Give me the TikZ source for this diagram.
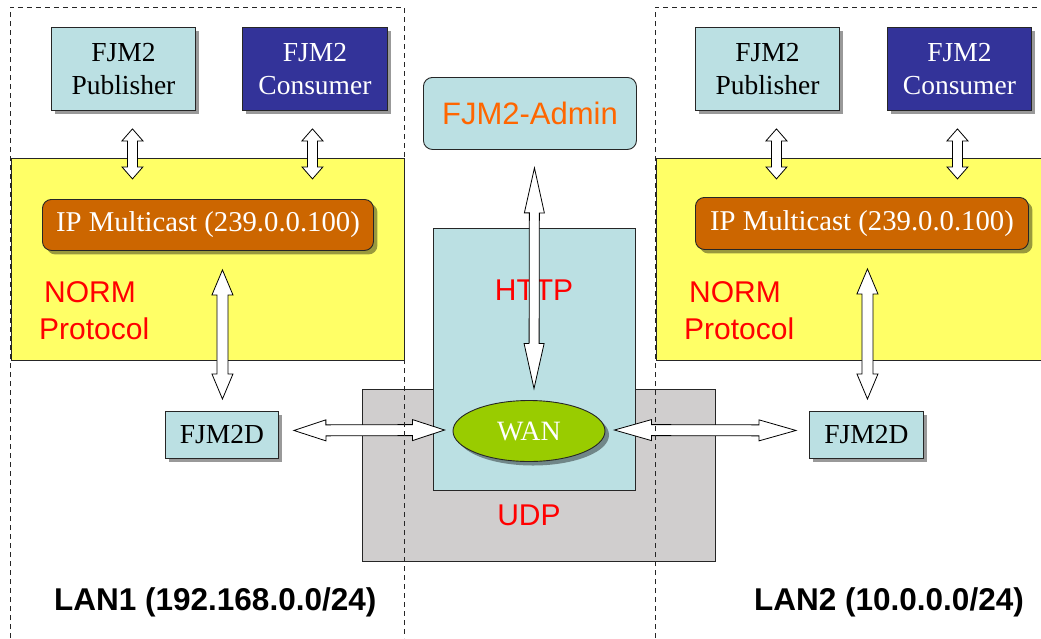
\documentclass[tikz,border=0pt]{standalone}
\usepackage{fontspec}
\setmainfont{Liberation Serif}
\setsansfont{Liberation Sans}
\usetikzlibrary{calc,shapes.geometric,shadows}
\definecolor{lblue}{RGB}{187,224,227}
\definecolor{dblue}{RGB}{51,51,153}
\definecolor{mcorange}{RGB}{204,102,0}
\definecolor{yel}{RGB}{255,255,102}
\definecolor{grn}{RGB}{153,204,0}
\definecolor{gry}{RGB}{208,206,206}
\definecolor{admintxt}{RGB}{255,102,0}
\tikzset{
  box/.style={draw=black!85, line width=0.9pt, inner sep=0pt, anchor=north west, align=center,
    font=\fontsize{27.5}{33}\selectfont},
  shad/.style={drop shadow={shadow xshift=4pt, shadow yshift=-4pt, fill=black, opacity=0.4}},
  dblarrow/.style={draw=black, fill=white, line width=0.8pt, line join=miter},
  lanline/.style={draw=black!85, line width=0.8pt, dash pattern=on 5pt off 4pt},
  lbl/.style={font=\sffamily\fontsize{30}{36}\selectfont, text=red, inner sep=0pt},
  lanlbl/.style={font=\sffamily\bfseries\fontsize{31.5}{36}\selectfont, inner sep=0pt, anchor=base west},
}
% #1,#2 end coordinates, #3 half shaft, #4 half head, #5 head length
\newcommand\dblarr[5]{%
  \path coordinate (arrSa) at ($(#1)!#5!(#2)$) coordinate (arrSb) at ($(#2)!#5!(#1)$);
  \draw[dblarrow] (#1) -- ($(arrSa)!#4!90:(#2)$) -- ($(arrSa)!#3!90:(#2)$)
    -- ($(arrSb)!#3!-90:(#1)$) -- ($(arrSb)!#4!-90:(#1)$) -- (#2)
    -- ($(arrSb)!#4!90:(#1)$) -- ($(arrSb)!#3!90:(#1)$)
    -- ($(arrSa)!#3!-90:(#2)$) -- ($(arrSa)!#4!-90:(#2)$) -- cycle;}
\begin{document}
\begin{tikzpicture}[x=1pt,y=-1pt]
\clip (0,0) rectangle (1041,638);
\fill[white] (0,0) rectangle (1041,638);
% WAN area boxes
\node[box, fill=gry, minimum width=353pt, minimum height=172pt] (udpbox) at (362,389) {};
\node[box, fill=lblue, minimum width=202pt, minimum height=262pt] (httpbox) at (433,228) {};
\node[lbl] (http) at (534,290) {HTTP};
\node[lbl] (udp) at (529,515) {UDP};
% NORM bands
\node[box, fill=yel, minimum width=393pt, minimum height=202pt] (band1) at (11,158) {};
\node[box, fill=yel, minimum width=400pt, minimum height=202pt] (band2) at (656,158) {};
\node[lbl, anchor=base west] (norm1a) at (44,302) {NORM};
\node[lbl, anchor=base west] (norm1b) at (39,339) {Protocol};
\node[lbl, anchor=base west] (norm2a) at (689,302) {NORM};
\node[lbl, anchor=base west] (norm2b) at (684,339) {Protocol};
% LAN1 nodes
\node[box, shad, fill=lblue, minimum width=144pt, minimum height=83pt] (pub1) at (51,27) {FJM2\\Publisher};
\node[box, shad, fill=dblue, text=white, minimum width=145pt, minimum height=83pt] (cons1) at (242,27) {FJM2\\Consumer};
\node[box, shad, fill=mcorange, text=white, rounded corners=9pt, minimum width=331pt, minimum height=51pt,
  font=\fontsize{28.7}{33}\selectfont] (mc1) at (42,199) {IP Multicast (239.0.0.100)};
\node[box, shad, fill=lblue, minimum width=113pt, minimum height=47pt] (d1) at (165,411) {FJM2D};
% LAN2 nodes
\node[box, shad, fill=lblue, minimum width=144pt, minimum height=83pt] (pub2) at (695,27) {FJM2\\Publisher};
\node[box, shad, fill=dblue, text=white, minimum width=144pt, minimum height=83pt] (cons2) at (887,27) {FJM2\\Consumer};
\node[box, shad, fill=mcorange, text=white, rounded corners=9pt, minimum width=333pt, minimum height=52pt,
  font=\fontsize{28.7}{33}\selectfont] (mc2) at (695,197) {IP Multicast (239.0.0.100)};
\node[box, shad, fill=lblue, minimum width=114pt, minimum height=47pt] (d2) at (809,411) {FJM2D};
% Admin and WAN
\node[box, fill=lblue, rounded corners=9pt, minimum width=213pt, minimum height=72pt,
  font=\sffamily\fontsize{31}{36}\selectfont, text=admintxt] (admin) at (423,77) {FJM2-Admin};
\node[ellipse, draw=black!85, line width=0.9pt, shad, fill=grn, text=white, inner sep=0pt,
  minimum width=152pt, minimum height=61pt, font=\fontsize{28}{32}\selectfont] (wan) at (529,431) {WAN};
% arrow end points
\coordinate (p1a) at ($(pub1.south)+(9,18)$);   \coordinate (p1b) at ($(pub1.south)+(9,68)$);
\coordinate (c1a) at ($(cons1.south)+(-2.5,18)$); \coordinate (c1b) at ($(cons1.south)+(-2.5,68)$);
\coordinate (p2a) at ($(pub2.south)+(9,18)$);   \coordinate (p2b) at ($(pub2.south)+(9,68)$);
\coordinate (c2a) at ($(cons2.south)+(-2,18)$); \coordinate (c2b) at ($(cons2.south)+(-2,68)$);
\coordinate (m1a) at ($(mc1.south)+(14.5,19)$); \coordinate (m1b) at ($(d1.north)+(0.5,-12)$);
\coordinate (m2a) at ($(mc2.south)+(5.5,19)$);  \coordinate (m2b) at ($(d2.north)+(1,-12)$);
\coordinate (h1a) at ($(d1.east)+(15,-4.5)$);   \coordinate (h1b) at ($(wan.west)+(-8,-1)$);
\coordinate (h2a) at ($(wan.east)+(9,-1)$);     \coordinate (h2b) at ($(d2.west)+(-13,-4.5)$);
\coordinate (ta) at ($(admin.south)+(4.5,18)$); \coordinate (tb) at ($(wan.north)+(5,-11.5)$);
% arrows
\dblarr{p1a}{p1b}{5pt}{10.5pt}{12pt}
\dblarr{c1a}{c1b}{5pt}{10.5pt}{12pt}
\dblarr{p2a}{p2b}{5pt}{10.5pt}{12pt}
\dblarr{c2a}{c2b}{5pt}{10.5pt}{12pt}
\dblarr{m1a}{m1b}{5.5pt}{10.5pt}{25pt}
\dblarr{m2a}{m2b}{5.5pt}{10.5pt}{25pt}
\dblarr{h1a}{h1b}{5.5pt}{10.5pt}{32pt}
\dblarr{h2a}{h2b}{5.5pt}{10.5pt}{37pt}
\dblarr{ta}{tb}{5pt}{10pt}{45pt}
% LAN outlines
\draw[lanline] (10,638) -- (10,7) -- (404,7) -- (404,638);
\draw[lanline] (655,638) -- (655,7) -- (1045,7);
% LAN labels
\node[lanlbl] (lan1) at (54,610) {LAN1 (192.168.0.0/24)};
\node[lanlbl] (lan2) at (754,610) {LAN2 (10.0.0.0/24)};
\end{tikzpicture}
\end{document}
